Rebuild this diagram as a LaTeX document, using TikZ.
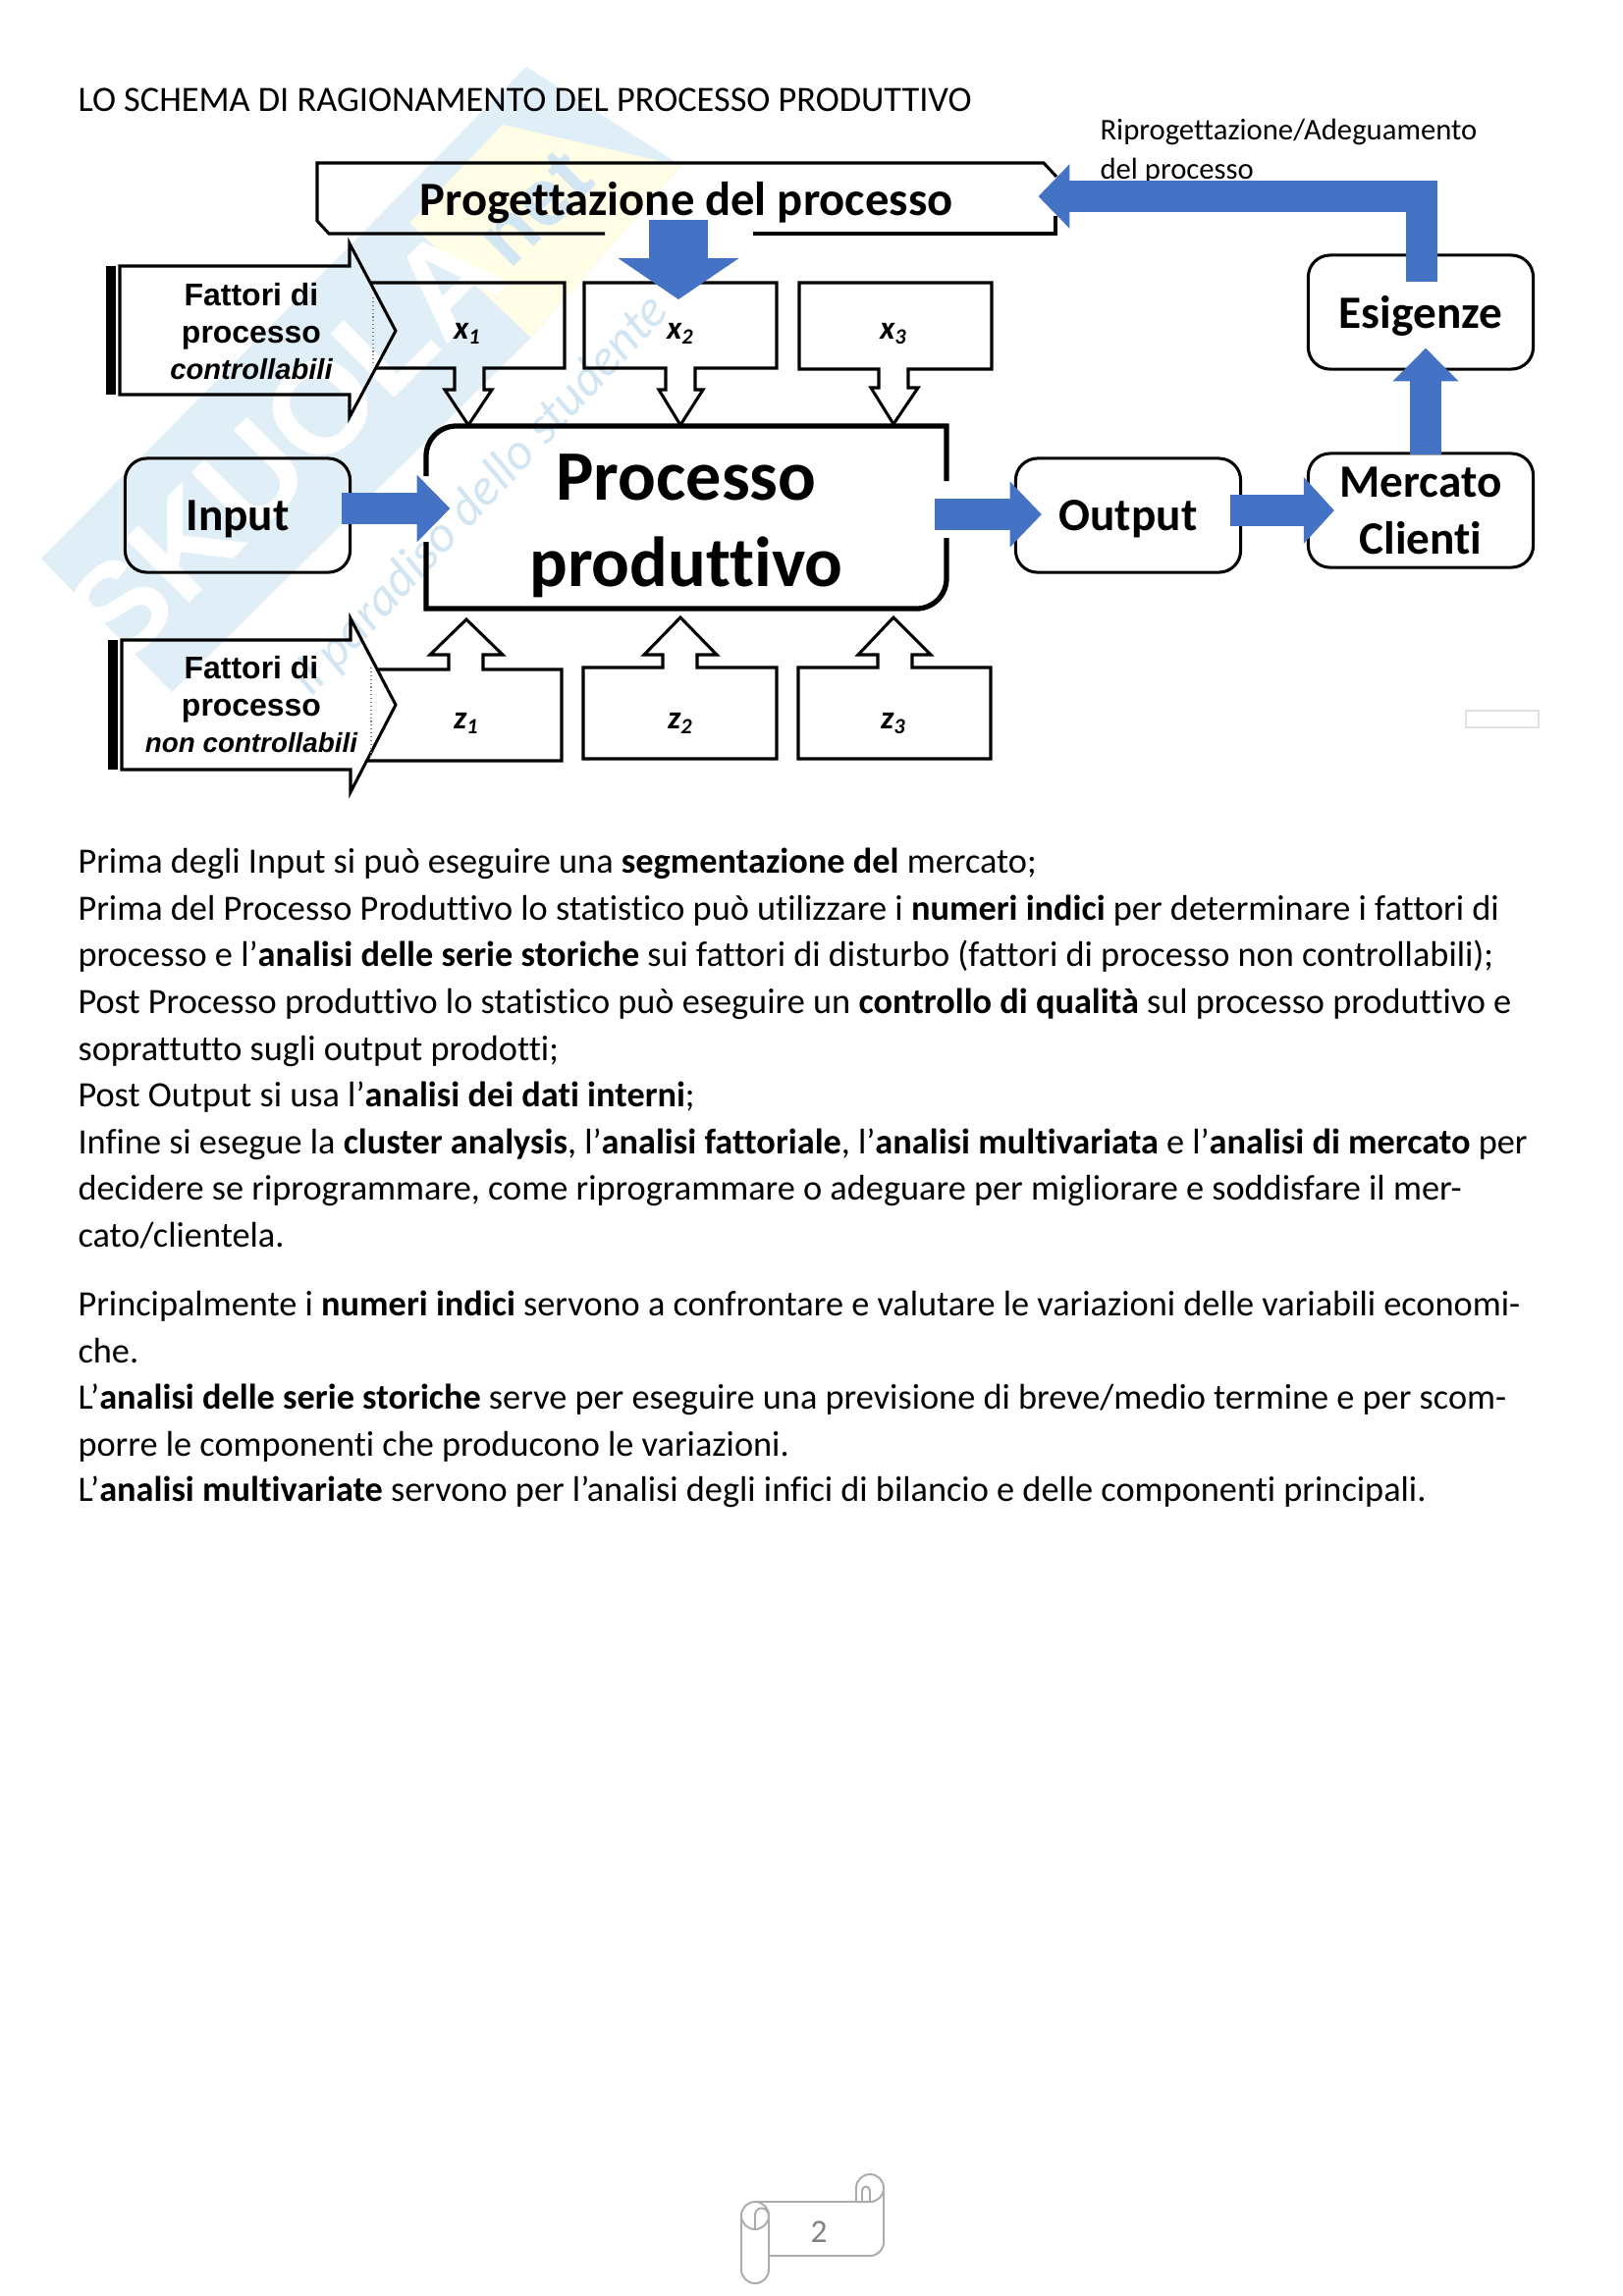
\documentclass[tikz,border=0pt]{standalone}
\usepackage{fontspec}
\usepackage{xcolor}
\setmainfont[Ligatures=NoCommon]{Carlito}
\newfontfamily\arialfont{Liberation Sans}
\usetikzlibrary{arrows.meta}
\definecolor{arrowblue}{HTML}{4472C4}
\definecolor{markblue}{HTML}{E0EEF7}
\definecolor{markink}{HTML}{D2E5F2}
\definecolor{markyellow}{HTML}{FFFDE6}
\definecolor{scrollgrey}{HTML}{ABABAB}

\begin{document}
\begin{tikzpicture}[
    x=0.36pt, y=-0.36pt,
    line join=miter,
    outline/.style={draw=black, line width=1.1pt},
    roundbox/.style={rectangle, rounded corners=8pt, draw=black, line width=1.1pt,
                     minimum width=82.5pt, minimum height=41.8pt, inner sep=0pt,
                     text depth=0pt, align=center, font=\bfseries\fontsize{17}{21}\selectfont},
    factor/.style={inner sep=0pt, align=center,
                   font=\arialfont\bfseries\fontsize{11.5}{13.5}\selectfont},
    varlabel/.style={inner sep=0pt, font=\bfseries\itshape\fontsize{12}{14}\selectfont},
    bodyline/.style={anchor=base west, inner sep=0pt, font=\fontsize{13.07}{15}\selectfont},
    blockarrow/.style n args={3}{draw=arrowblue, line width=#1,
                     -{Triangle[length=#2, width=#3, fill=arrowblue]}},
  ]
  \path[fill=white, use as bounding box] (0,0) rectangle (1653,2339);

  % watermark
  \fill[markblue] (42,569) -- (536,68) -- (694,169) -- (541,344) -- (175,705) -- cycle;
  \fill[markyellow] (417,227) -- (512,127) -- (694,169) -- (541,344) -- cycle;
  \node[rotate=45, text=white, font=\arialfont\bfseries\fontsize{48}{48}\selectfont]
    (markname) at (290,452) {SKUOLA};
  \node[rotate=45, text=markink, font=\arialfont\bfseries\fontsize{30}{30}\selectfont]
    (marknet) at (545,212) {net};
  \node[rotate=47, text=markink, font=\itshape\fontsize{19}{19}\selectfont]
    (markline) at (490,505) {il paradiso dello studente};

  % heading
  \node[bodyline] (title) at (79,113) {LO SCHEMA DI RAGIONAMENTO DEL PROCESSO PRODUTTIVO};
  \node[bodyline, font=\fontsize{11.05}{13}\selectfont] (rip1) at (1120,142) {Riprogettazione/Adeguamento};
  \node[bodyline, font=\fontsize{11.05}{13}\selectfont] (rip2) at (1120,182) {del processo};

  % banner
  \node[inner sep=0pt, minimum width=270.7pt, minimum height=25.9pt, text depth=0pt,
        font=\bfseries\fontsize{17.5}{20}\selectfont] (prog) at (699,202) {Progettazione del processo};
  \draw[outline] (616,238) -- (335,238) -- (323,225) -- (323,166) -- (1063,166) -- (1076,180);
  \draw[outline] (767,238) -- (1075,238) -- (1075,220);

  % controllable factors
  \fill (108,271) rectangle (118,402);
  \draw[outline] (122,271) -- (356,271) -- (356,248) -- (403,337) -- (356,425)
    -- (356,402) -- (122,402) -- cycle;
  \draw[densely dotted, gray] (380,303) -- (380,373);
  \node[factor] (fatc) at (256,338) {Fattori di\\processo\\{\itshape\fontsize{10.5}{13}\selectfont controllabili}};
  \draw[outline] (377,288) -- (575,288) -- (575,375) -- (493,375) -- (493,397) -- (501,397)
    -- (477,433) -- (453,397) -- (463,397) -- (463,375) -- (383,375);
  \draw[outline] (595,288) -- (791,288) -- (791,375) -- (708,375) -- (708,397) -- (716,397)
    -- (693,433) -- (671,397) -- (678,397) -- (678,375) -- (595,375) -- cycle;
  \draw[outline] (814,288) -- (1010,288) -- (1010,376) -- (925,376) -- (925,395) -- (935,395)
    -- (910,432) -- (887,395) -- (895,395) -- (895,376) -- (814,376) -- cycle;
  \node[varlabel] (x1) at (476,340) {x\textsubscript{1}};
  \node[varlabel] (x2) at (693,340) {x\textsubscript{2}};
  \node[varlabel] (x3) at (910,340) {x\textsubscript{3}};

  % process row
  \node[roundbox] (input) at (242,525) {Input};
  \node[inner sep=0pt, minimum width=190.8pt, minimum height=67pt, text depth=0pt, align=center,
        font=\bfseries\fontsize{26}{31.7}\selectfont] (proc) at (699,530) {Processo\\produttivo};
  \draw[line width=1.9pt] (434,485) [rounded corners=11pt] -- (434,434) [sharp corners] -- (964,434) -- (964,490);
  \draw[line width=1.9pt] (964,548) [rounded corners=11pt] -- (964,620) [sharp corners] -- (434,620) -- (434,552);
  \node[roundbox] (output) at (1149,525) {Output};
  \node[roundbox] (mercato) at (1447,520) {Mercato\\Clienti};
  \node[roundbox] (esigenze) at (1447,318) {Esigenze};
  \node[rectangle, draw=black!12, line width=0.7pt, minimum width=26.6pt, minimum height=6.1pt,
        inner sep=0pt] (blank) at (1530,732.5) {};

  % disturbance factors
  \fill (110,652) rectangle (120,784);
  \draw[outline] (124,652) -- (357,652) -- (357,630) -- (403,718) -- (357,807)
    -- (357,784) -- (124,784) -- cycle;
  \draw[densely dotted, gray] (378,680) -- (378,770);
  \node[factor] (fatn) at (256,718) {Fattori di\\processo\\{\itshape\fontsize{10}{13}\selectfont non controllabili}};
  \draw[outline] (384,682) -- (457,682) -- (457,667) -- (438,667) -- (475,631) -- (512,667)
    -- (492,667) -- (492,682) -- (572,682) -- (572,775) -- (374,775);
  \draw[outline] (594,680) -- (675,680) -- (675,667) -- (656,667) -- (693,629) -- (730,667)
    -- (710,667) -- (710,680) -- (791,680) -- (791,773) -- (594,773) -- cycle;
  \draw[outline] (813,680) -- (894,680) -- (894,667) -- (874,667) -- (910,629) -- (948,667)
    -- (929,667) -- (929,680) -- (1009,680) -- (1009,773) -- (813,773) -- cycle;
  \node[varlabel] (z1) at (475,737) {z\textsubscript{1}};
  \node[varlabel] (z2) at (693,737) {z\textsubscript{2}};
  \node[varlabel] (z3) at (910,737) {z\textsubscript{3}};

  % blue connectors
  \draw[blockarrow={11.5pt}{12.2pt}{24pt}] ([shift={(-10,-7)}]input.east) -- ([shift={(25,-12)}]proc.west);
  \draw[blockarrow={11.8pt}{11.6pt}{23.4pt}] ([shift={(-13,-6)}]proc.east) -- ([shift={(28,-1)}]output.west);
  \draw[blockarrow={11.8pt}{11.2pt}{23.8pt}] ([shift={(-12,-5)}]output.east) -- ([shift={(28,0)}]mercato.west);
  \draw[blockarrow={11.5pt}{12.2pt}{23.4pt}] ([shift={(5,3)}]mercato.north) -- ([shift={(5,-23)}]esigenze.south);
  \draw[blockarrow={11.5pt}{11.5pt}{23pt}] ([shift={(1,29)}]esigenze.north) |- ([shift={(-18,-2)}]prog.east);
  \draw[blockarrow={21.6pt}{15.1pt}{43.6pt}] ([shift={(-8,-15)}]prog.south) -- ([shift={(-2,-35)}]x2.center);

  % text below the scheme
  \node[bodyline] (l1) at (79,889.5) {Prima degli Input si può eseguire una \textbf{segmentazione del} mercato;};
  \node[bodyline] (l2) at (79,937) {Prima del Processo Produttivo lo statistico può utilizzare i \textbf{numeri indici} per determinare i fattori di};
  \node[bodyline] (l3) at (79,984.5) {processo e l’\textbf{analisi delle serie storiche} sui fattori di disturbo (fattori di processo non controllabili);};
  \node[bodyline] (l4) at (79,1032.5) {Post Processo produttivo lo statistico può eseguire un \textbf{controllo di qualità} sul processo produttivo e};
  \node[bodyline] (l5) at (79,1080) {soprattutto sugli output prodotti;};
  \node[bodyline] (l6) at (79,1127.5) {Post Output si usa l’\textbf{analisi dei dati interni};};
  \node[bodyline] (l7) at (79,1175) {Infine si esegue la \textbf{cluster analysis}, l’\textbf{analisi fattoriale}, l’\textbf{analisi multivariata} e l’\textbf{analisi di mercato} per};
  \node[bodyline] (l8) at (79,1222.5) {decidere se riprogrammare, come riprogrammare o adeguare per migliorare e soddisfare il mer-};
  \node[bodyline] (l9) at (79,1270) {cato/clientela.};
  \node[bodyline] (l10) at (79,1340) {Principalmente i \textbf{numeri indici} servono a confrontare e valutare le variazioni delle variabili economi-};
  \node[bodyline] (l11) at (79,1388) {che.};
  \node[bodyline] (l12) at (79,1435) {L’\textbf{analisi delle serie storiche} serve per eseguire una previsione di breve/medio termine e per scom-};
  \node[bodyline] (l13) at (79,1483) {porre le componenti che producono le variazioni.};
  \node[bodyline] (l14) at (79,1529.5) {L’\textbf{analisi multivariate} servono per l’analisi degli infici di bilancio e delle componenti principali.};

  % page number scroll
  \begin{scope}[draw=scrollgrey, line width=0.7pt]
    \draw (769,2243) -- (872,2243);
    \draw (783,2298) [rounded corners=5pt] -- (900,2298) -- (900,2215) -- (872,2215) -- (872,2243) [sharp corners];
    \draw [rounded corners=5pt] (872,2243) -- (900,2243) -- (900,2229);
    \draw (886,2243) -- (886,2232) .. controls (886,2226) and (878,2226) .. (878,2232) -- (878,2243);
    \draw (769,2257) circle[radius=14];
    \draw [rounded corners=5pt] (755,2257) -- (755,2326) -- (783,2326) -- (783,2257);
    \draw (769,2271) -- (769,2257) .. controls (769,2247) and (782,2247) .. (783,2257);
  \end{scope}
  \node[text=gray, font=\fontsize{12}{14}\selectfont] (pagenum) at (834,2274) {2};
\end{tikzpicture}
\end{document}
